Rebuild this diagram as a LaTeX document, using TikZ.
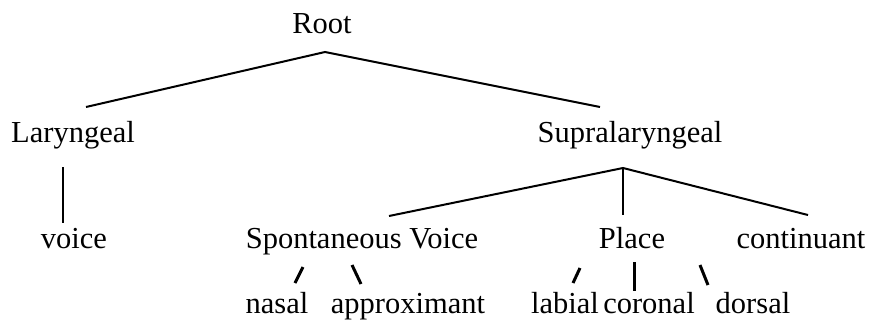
\documentclass[tikz,border=0pt]{standalone}
\usepackage{fontspec}
\setmainfont{Liberation Serif}
\begin{document}
\begin{tikzpicture}[x=0.5pt, y=-0.5pt,
  feat/.style = {anchor=base, inner sep=0pt, font=\fontsize{15.25}{18}\selectfont},
  branch/.style = {line width=1pt},
  tick/.style = {line width=1.5pt}]

\useasboundingbox (0, 0) rectangle (871, 327);

\node[feat] (root) at (322, 33) {Root};

\node[feat] (lar) at (73, 142) {Laryngeal};
\node[feat] (supra) at (630, 142) {Supralaryngeal};

\node[feat] (voice) at (74, 248) {voice};
\node[feat] (spv) at (362, 248) {Spontaneous Voice};
\node[feat] (place) at (632, 248) {Place};
\node[feat] (cont) at (801, 248) {continuant};

\node[feat] (nasal) at (277, 313) {nasal};
\node[feat] (approx) at (408, 313) {approximant};
\node[feat] (lab) at (565, 313) {labial};
\node[feat] (cor) at (649, 313) {coronal};
\node[feat] (dor) at (753, 313) {dorsal};

\coordinate (rootJ) at (325, 52);
\coordinate (larT) at (86, 107);
\coordinate (supraT) at (600, 107);

\coordinate (larB) at (63, 167);
\coordinate (voiceT) at (63, 223);

\coordinate (supraJ) at (623, 168);
\coordinate (spvT) at (389, 216);
\coordinate (placeT) at (623, 215);
\coordinate (contT) at (808, 215);

\coordinate (spvL) at (303, 267);
\coordinate (nasalT) at (295, 283);
\coordinate (spvR) at (352, 265);
\coordinate (approxT) at (361, 284);

\coordinate (placeL) at (580, 268);
\coordinate (labT) at (573, 283);
\coordinate (placeM) at (634, 262);
\coordinate (corT) at (634, 291);
\coordinate (placeR) at (700, 265);
\coordinate (dorT) at (708, 285);

\draw[branch] (larT) -- (rootJ) -- (supraT);
\draw[branch] (larB) -- (voiceT);
\draw[branch] (spvT) -- (supraJ) -- (contT);
\draw[branch] (supraJ) -- (placeT);

\draw[tick] (spvL) -- (nasalT);
\draw[tick] (spvR) -- (approxT);
\draw[tick] (placeL) -- (labT);
\draw[tick] (placeM) -- (corT);
\draw[tick] (placeR) -- (dorT);
\end{tikzpicture}
\end{document}
